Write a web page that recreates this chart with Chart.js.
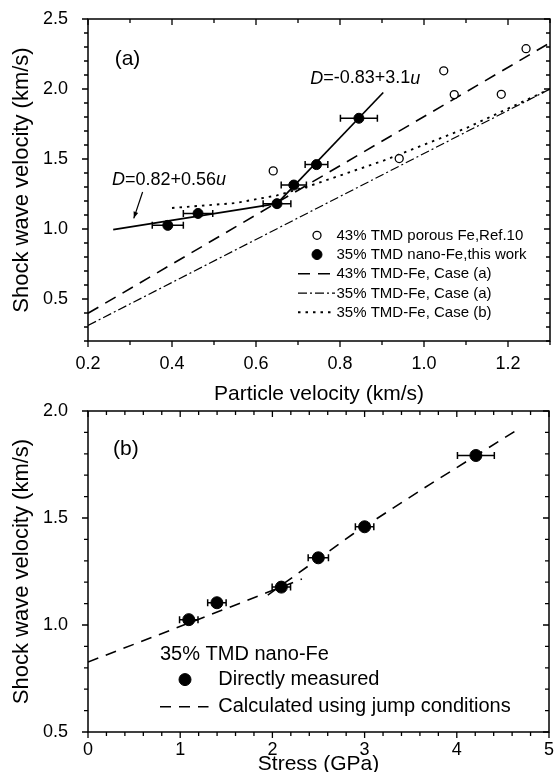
<!DOCTYPE html>
<html><head><meta charset="utf-8">
<script src="https://cdn.jsdelivr.net/npm/chart.js@4.4.1/dist/chart.umd.min.js"></script>
<style>
html,body{margin:0;padding:0;background:#fff;}
#wrap{position:relative;width:556px;height:772px;overflow:hidden;background:#fff;}
#ca{position:absolute;left:0;top:0;}
#cb{position:absolute;left:0;top:395px;}
</style></head><body>
<div id="wrap"><canvas id="ca" width="556" height="410"></canvas><canvas id="cb" width="556" height="385"></canvas></div>
<script>
// ---------- Panel (a) data ----------
const porousU = [0.641, 0.941, 1.047, 1.072, 1.184, 1.243];
const porousD = [1.415, 1.503, 2.130, 1.960, 1.962, 2.288];
const nanoU    = [0.390, 0.462, 0.650, 0.690, 0.744, 0.845];
const nanoD    = [1.026, 1.111, 1.181, 1.314, 1.460, 1.791];
const nanoUerr = [0.037, 0.035, 0.033, 0.030, 0.027, 0.044];
const fitLowU  = [0.26, 0.650];
const fitLowD  = [0.996, 1.181];
const fitHighU = [0.650, 0.903];
const fitHighD = [1.181, 1.975];
const case43aU = [0.2, 1.3];
const case43aD = [0.398, 2.33];
const case35aU = [0.2, 1.3];
const case35aD = [0.311, 2.0];
const case35bU = [0.40, 0.55, 0.65, 0.73, 0.905, 1.10, 1.30];
const case35bD = [1.15, 1.185, 1.24, 1.31, 1.49, 1.72, 2.00];
const xTickLabelsA = ['0.2','0.4','0.6','0.8','1.0','1.2'];
const yTickLabelsA = ['0.5','1.0','1.5','2.0','2.5'];

// ---------- Panel (b) data ----------
const stressP    = [1.093, 1.398, 2.097, 2.498, 3.000, 4.207];
const stressD    = [1.025, 1.104, 1.177, 1.314, 1.459, 1.792];
const stressPerr = [0.10, 0.10, 0.10, 0.11, 0.10, 0.20];
const calcLowP   = [0.0, 1.1, 2.32];
const calcLowD   = [0.827, 1.01, 1.215];
const calcHighP  = [1.95, 2.87, 3.70, 4.67];
const calcHighD  = [1.14, 1.424, 1.655, 1.916];
const xTickLabelsB = ['0','1','2','3','4','5'];
const yTickLabelsB = ['0.5','1.0','1.5','2.0'];

const FONT = '"Liberation Sans", Arial, Helvetica, sans-serif';
const zip = (xs, ys) => xs.map((x, i) => ({x: x, y: ys[i]}));
const labelFor = (v, labels) => {
  const i = labels.findIndex(l => Math.abs(Number(l) - v) < 1e-6);
  return i >= 0 ? labels[i] : '';
};
const isMajor = (v, labels) => labels.some(l => Math.abs(Number(l) - v) < 1e-6);

// frame + Origin-style ticks (left/right point left, top/bottom point down)
const frameTicks = {
  id: 'frameTicks',
  afterDraw(chart, args, o) {
    const {ctx, chartArea: a} = chart;
    const xs = chart.scales.x, ys = chart.scales.y;
    ctx.save();
    ctx.strokeStyle = '#000';
    ctx.lineWidth = 1.5;
    ctx.strokeRect(a.left, a.top, a.right - a.left, a.bottom - a.top);
    ctx.lineWidth = 1.3;
    ctx.beginPath();
    xs.ticks.forEach(t => {
      const p = xs.getPixelForValue(t.value);
      const L = isMajor(t.value, o.xLabels) ? 6 : 4;
      ctx.moveTo(p, a.bottom); ctx.lineTo(p, a.bottom + L);
      ctx.moveTo(p, a.top); ctx.lineTo(p, a.top + L);
    });
    ys.ticks.forEach(t => {
      const p = ys.getPixelForValue(t.value);
      const L = isMajor(t.value, o.yLabels) ? 6 : 4;
      ctx.moveTo(a.left - L, p); ctx.lineTo(a.left, p);
      ctx.moveTo(a.right - L, p); ctx.lineTo(a.right, p);
    });
    ctx.stroke();
    ctx.restore();
  }
};

// horizontal error bars, drawn beneath the markers
const errorBars = {
  id: 'errorBars',
  beforeDatasetsDraw(chart, args, o) {
    const {ctx} = chart;
    const xs = chart.scales.x, ys = chart.scales.y;
    const ds = chart.data.datasets[o.dataset];
    ctx.save();
    ctx.strokeStyle = '#000';
    ctx.lineWidth = o.width;
    ds.data.forEach((pt, i) => {
      const e = o.errors[i];
      const x1 = xs.getPixelForValue(pt.x - e), x2 = xs.getPixelForValue(pt.x + e);
      const y = ys.getPixelForValue(pt.y);
      ctx.beginPath();
      ctx.moveTo(x1, y); ctx.lineTo(x2, y);
      ctx.moveTo(x1, y - o.cap); ctx.lineTo(x1, y + o.cap);
      ctx.moveTo(x2, y - o.cap); ctx.lineTo(x2, y + o.cap);
      ctx.stroke();
    });
    ctx.restore();
  }
};

function richText(ctx, parts, x, y, size) {
  let cx = x;
  parts.forEach(([t, it]) => {
    ctx.font = (it ? 'italic ' : '') + size + 'px ' + FONT;
    ctx.fillText(t, cx, y);
    cx += ctx.measureText(t).width;
  });
}
function drawMarker(ctx, ds, x, y) {
  ctx.beginPath();
  ctx.arc(x, y, ds.pointRadius, 0, Math.PI * 2);
  ctx.fillStyle = ds.pointBackgroundColor;
  ctx.fill();
  ctx.lineWidth = ds.pointBorderWidth;
  ctx.strokeStyle = ds.pointBorderColor;
  ctx.stroke();
}
function drawSample(ctx, ds, x1, x2, y) {
  ctx.save();
  ctx.beginPath();
  ctx.setLineDash(ds.borderDash || []);
  ctx.lineWidth = ds.borderWidth;
  ctx.strokeStyle = ds.borderColor;
  ctx.moveTo(x1, y); ctx.lineTo(x2, y);
  ctx.stroke();
  ctx.restore();
}

// ---------- Panel (a) annotations (data coordinates) ----------
const annotA = {
  panel: {u: 0.294, D: 2.21, text: '(a)'},
  fitLow: {u: 0.257, D: 1.352},
  fitHigh: {u: 0.729, D: 2.075},
  arrowFrom: {u: 0.330, D: 1.264},
  arrowTo: {u: 0.309, D: 1.076}
};
const decorA = {
  id: 'decorA',
  afterDraw(chart) {
    const {ctx, chartArea: a} = chart;
    const xs = chart.scales.x, ys = chart.scales.y;
    const px = p => [xs.getPixelForValue(p.u), ys.getPixelForValue(p.D)];
    ctx.save();
    ctx.fillStyle = '#000';
    ctx.textBaseline = 'middle';
    ctx.textAlign = 'center';
    ctx.font = '21px ' + FONT;
    let [x, y] = px(annotA.panel);
    ctx.fillText(annotA.panel.text, x, y);
    ctx.textAlign = 'left';
    [x, y] = px(annotA.fitLow);
    richText(ctx, [['D', true], ['=0.82+0.56', false], ['u', true]], x, y, 18);
    [x, y] = px(annotA.fitHigh);
    richText(ctx, [['D', true], ['=-0.83+3.1', false], ['u', true]], x, y, 18);
    // arrow
    const [x1, y1] = px(annotA.arrowFrom), [x2, y2] = px(annotA.arrowTo);
    ctx.strokeStyle = '#000'; ctx.lineWidth = 1.2;
    ctx.beginPath(); ctx.moveTo(x1, y1); ctx.lineTo(x2, y2); ctx.stroke();
    const ang = Math.atan2(y2 - y1, x2 - x1), hl = 7, hw = 0.35;
    ctx.beginPath();
    ctx.moveTo(x2, y2);
    ctx.lineTo(x2 - hl * Math.cos(ang - hw), y2 - hl * Math.sin(ang - hw));
    ctx.lineTo(x2 - hl * Math.cos(ang + hw), y2 - hl * Math.sin(ang + hw));
    ctx.closePath(); ctx.fill();
    // legend
    const dsets = chart.data.datasets;
    const rows = [
      {kind: 'marker', ds: 0}, {kind: 'marker', ds: 1},
      {kind: 'line', ds: 4}, {kind: 'line', ds: 5}, {kind: 'line', ds: 6}
    ];
    rows.forEach((r, i) => {
      const ry = a.top + 216.3 + i * 19.25;
      const ds = dsets[r.ds];
      if (r.kind === 'marker') drawMarker(ctx, ds, a.left + 229, ry);
      else drawSample(ctx, ds, a.left + 210, a.left + 247, ry);
      ctx.fillStyle = '#000';
      ctx.font = '15px ' + FONT;
      ctx.fillText(ds.label, a.left + 248.5, ry + 0.5);
    });
    ctx.restore();
  }
};

const tickFont = {family: FONT, size: 18};
const xTitleFont = {family: FONT, size: 21};
const yTitleFont = {family: FONT, size: 22};

new Chart(document.getElementById('ca'), {
  type: 'scatter',
  data: {datasets: [
    {label: '43% TMD porous Fe,Ref.10', data: zip(porousU, porousD), showLine: false,
     pointRadius: 4, pointBackgroundColor: '#fff', pointBorderColor: '#000', pointBorderWidth: 1.3},
    {label: '35% TMD nano-Fe,this work', data: zip(nanoU, nanoD), showLine: false,
     pointRadius: 5, pointBackgroundColor: '#000', pointBorderColor: '#000', pointBorderWidth: 1},
    {label: 'D=0.82+0.56u', data: zip(fitLowU, fitLowD), showLine: true,
     borderColor: '#000', borderWidth: 1.7, pointRadius: 0},
    {label: 'D=-0.83+3.1u', data: zip(fitHighU, fitHighD), showLine: true,
     borderColor: '#000', borderWidth: 1.7, pointRadius: 0},
    {label: '43% TMD-Fe, Case (a)', data: zip(case43aU, case43aD), showLine: true,
     borderColor: '#000', borderWidth: 1.6, borderDash: [12, 8], pointRadius: 0},
    {label: '35% TMD-Fe, Case (a)', data: zip(case35aU, case35aD), showLine: true,
     borderColor: '#000', borderWidth: 1.2, borderDash: [9, 3, 2, 3], pointRadius: 0},
    {label: '35% TMD-Fe, Case (b)', data: zip(case35bU, case35bD), showLine: true,
     borderColor: '#000', borderWidth: 1.9, borderDash: [2.5, 5], pointRadius: 0}
  ]},
  options: {
    responsive: false, animation: false, events: [],
    layout: {padding: {top: 19, right: 2, left: 0, bottom: 0}},
    plugins: {
      legend: {display: false}, tooltip: {enabled: false},
      frameTicks: {xLabels: xTickLabelsA, yLabels: yTickLabelsA},
      errorBars: {dataset: 1, errors: nanoUerr, cap: 3.5, width: 1.5}
    },
    scales: {
      x: {type: 'linear', position: 'bottom', min: 0.2, max: 1.3,
        ticks: {stepSize: 0.1, autoSkip: false, maxRotation: 0, minRotation: 0, padding: 4,
          color: '#000', font: tickFont, callback: v => labelFor(v, xTickLabelsA)},
        grid: {display: false}, border: {display: false},
        title: {display: true, text: 'Particle velocity (km/s)', color: '#000', font: xTitleFont,
          padding: {top: 0, bottom: 3.4}},
        afterFit: s => { s.height = 69; s.paddingLeft = 0; s.paddingRight = 0; }
      },
      y: {type: 'linear', position: 'left', min: 0.2, max: 2.5,
        ticks: {stepSize: 0.1, autoSkip: false, padding: 12, color: '#000', font: tickFont,
          callback: v => labelFor(v, yTickLabelsA)},
        grid: {display: false}, border: {display: false},
        title: {display: true, text: 'Shock wave velocity (km/s)', color: '#000', font: yTitleFont,
          padding: {top: 9, bottom: 0}},
        afterFit: s => { s.width = 88; s.paddingTop = 0; s.paddingBottom = 0; }
      }
    }
  },
  plugins: [frameTicks, errorBars, decorA]
});

// ---------- Panel (b) ----------
const annotB = {panel: {p: 0.41, D: 1.82, text: '(b)'}};
const decorB = {
  id: 'decorB',
  afterDraw(chart) {
    const {ctx, chartArea: a} = chart;
    const xs = chart.scales.x, ys = chart.scales.y;
    ctx.save();
    ctx.fillStyle = '#000';
    ctx.textBaseline = 'middle';
    ctx.textAlign = 'center';
    ctx.font = '21px ' + FONT;
    ctx.fillText(annotB.panel.text, xs.getPixelForValue(annotB.panel.p), ys.getPixelForValue(annotB.panel.D));
    ctx.textAlign = 'left';
    const dsets = chart.data.datasets;
    ctx.font = '20px ' + FONT;
    ctx.fillText('35% TMD nano-Fe', a.left + 72, a.top + 243.4);
    drawMarker(ctx, dsets[0], a.left + 97, a.top + 268.6);
    ctx.fillStyle = '#000';
    ctx.font = '20px ' + FONT;
    ctx.fillText(dsets[0].label, a.left + 130.3, a.top + 268.6);
    drawSample(ctx, dsets[1], a.left + 72, a.left + 120.5, a.top + 295.8);
    ctx.fillStyle = '#000';
    ctx.fillText(dsets[1].label, a.left + 130.3, a.top + 295.8);
    ctx.restore();
  }
};

new Chart(document.getElementById('cb'), {
  type: 'scatter',
  data: {datasets: [
    {label: 'Directly measured', data: zip(stressP, stressD), showLine: false,
     pointRadius: 6, pointBackgroundColor: '#000', pointBorderColor: '#000', pointBorderWidth: 1},
    {label: 'Calculated using jump conditions', data: zip(calcLowP, calcLowD), showLine: true,
     borderColor: '#000', borderWidth: 1.6, borderDash: [11, 8], pointRadius: 0},
    {label: 'Calculated using jump conditions (upper branch)', data: zip(calcHighP, calcHighD), showLine: true,
     borderColor: '#000', borderWidth: 1.6, borderDash: [11, 8], pointRadius: 0}
  ]},
  options: {
    responsive: false, animation: false, events: [],
    layout: {padding: {top: 16, right: 2, left: 0, bottom: 0}},
    plugins: {
      legend: {display: false}, tooltip: {enabled: false},
      frameTicks: {xLabels: xTickLabelsB, yLabels: yTickLabelsB},
      errorBars: {dataset: 0, errors: stressPerr, cap: 3.5, width: 1.5}
    },
    scales: {
      x: {type: 'linear', position: 'bottom', min: 0, max: 5,
        ticks: {stepSize: 0.2, autoSkip: false, maxRotation: 0, minRotation: 0, padding: -1,
          color: '#000', font: tickFont, callback: v => labelFor(v, xTickLabelsB)},
        grid: {display: false}, border: {display: false},
        title: {display: true, text: 'Stress (GPa)', color: '#000', font: xTitleFont,
          padding: {top: 0, bottom: 3.6}},
        afterFit: s => { s.height = 48; s.paddingLeft = 0; s.paddingRight = 0; }
      },
      y: {type: 'linear', position: 'left', min: 0.5, max: 2.0,
        ticks: {stepSize: 0.1, autoSkip: false, padding: 12, color: '#000', font: tickFont,
          callback: v => labelFor(v, yTickLabelsB)},
        grid: {display: false}, border: {display: false},
        title: {display: true, text: 'Shock wave velocity (km/s)', color: '#000', font: yTitleFont,
          padding: {top: 9, bottom: 0}},
        afterFit: s => { s.width = 88; s.paddingTop = 0; s.paddingBottom = 0; }
      }
    }
  },
  plugins: [frameTicks, errorBars, decorB]
});
</script>
</body></html>
